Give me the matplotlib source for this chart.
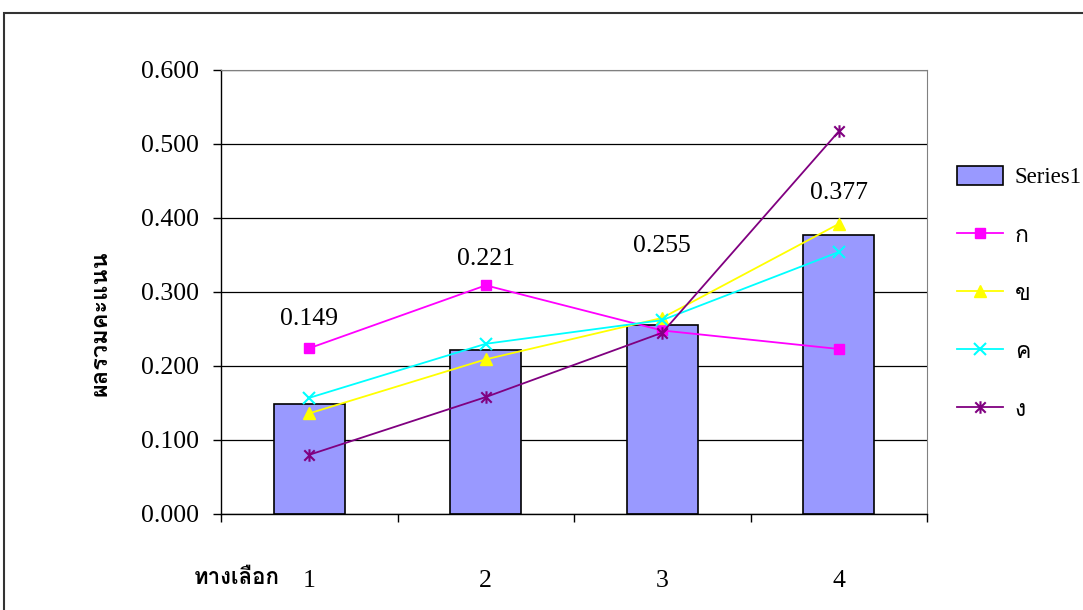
import matplotlib
matplotlib.use('Agg')
import matplotlib.pyplot as plt
from matplotlib import font_manager
from matplotlib.ft2font import FT2Font
from matplotlib.lines import Line2D
from matplotlib.patches import Rectangle
from matplotlib.path import Path

# ---------------- data ----------------
categories = ['1', '2', '3', '4']
series1 = [0.149, 0.221, 0.255, 0.377]
line_names = ['ก', 'ข', 'ค', 'ง']
line_ko = [0.224, 0.309, 0.248, 0.223]
line_kho = [0.136, 0.209, 0.265, 0.392]
line_kho_khwai = [0.157, 0.230, 0.262, 0.354]
line_ngo = [0.080, 0.158, 0.245, 0.517]
y_ticks = [0.0, 0.1, 0.2, 0.3, 0.4, 0.5, 0.6]
y_label = 'ผลรวมคะแนน'
x_label = 'ทางเลือก'
bar_name = 'Series1'

# ---------------- fonts ----------------
def find_thai_font():
    for f in font_manager.fontManager.ttflist:
        try:
            cm = FT2Font(f.fname).get_charmap()
            if 0x0E01 in cm and 0x0E19 in cm:
                return f.name
        except Exception:
            pass
    return None

thai = find_thai_font()
serif = ['Liberation Serif', 'DejaVu Serif']
fam = serif + ([thai] if thai else []) + ['DejaVu Sans']
thai_fam = ([thai] if thai else []) + serif
plt.rcParams['font.family'] = fam

W, H = 1083, 610
fig = plt.figure(figsize=(W / 100, H / 100), dpi=100)
ax = fig.add_axes([221 / W, 1 - 514 / H, 706 / W, 444 / H])

x = list(range(1, len(categories) + 1))
fs = 18.5
lfs = 16.5

ax.bar(x, series1, width=0.4, color='#9999FF', edgecolor='black', linewidth=1.2, zorder=2)

star = Path([(-1, -1), (1, 1), (-1, 1), (1, -1), (0, -1.2), (0, 1.2)],
            [Path.MOVETO, Path.LINETO, Path.MOVETO, Path.LINETO, Path.MOVETO, Path.LINETO])

styles = [
    (line_ko, '#FF00FF', 's', 7, dict()),
    (line_kho, '#FFFF00', '^', 9, dict()),
    (line_kho_khwai, '#00FFFF', 'x', 9, dict(markeredgewidth=1.5)),
    (line_ngo, '#800080', star, 9, dict(markeredgewidth=1.5)),
]
handles = [Rectangle((0, 0), 1, 1, facecolor='#9999FF', edgecolor='black', linewidth=1.2)]
for vals, col, mk, ms, kw in styles:
    ax.plot(x, vals, color=col, marker=mk, markersize=ms, linewidth=1.3,
            markerfacecolor=col, markeredgecolor=col, zorder=3, **kw)
    handles.append(Line2D([], [], color=col, marker=mk, markersize=ms, linewidth=1.3,
                          markerfacecolor=col, markeredgecolor=col, **kw))

# data labels
label_offsets = [61, 66, 57, 30]
for xi, v, off in zip(x, series1, label_offsets):
    ax.annotate(f'{v:.3f}', (xi, v), xytext=(0, off), textcoords='offset points',
                ha='center', va='center', fontsize=fs)

ax.set_xlim(0.5, len(categories) + 0.5)
ax.set_ylim(0, 0.6)
ax.set_yticks(y_ticks)
ax.set_yticklabels([f'{t:.3f}' for t in y_ticks], fontsize=fs)
ax.yaxis.grid(True, color='black', linewidth=0.9)
ax.set_axisbelow(True)
ax.tick_params(axis='y', direction='out', length=6, width=1, pad=10)

ax.set_xticks([i + 0.5 for i in range(0, len(categories) + 1)])
ax.set_xticklabels([])
ax.set_xticks(x, minor=True)
ax.set_xticklabels(categories, minor=True, fontsize=fs)
ax.tick_params(axis='x', which='major', direction='out', length=6, width=1)
ax.tick_params(axis='x', which='minor', length=0, pad=40)

for s in ['top', 'right']:
    ax.spines[s].set_color('#808080')
for s in ['left', 'bottom']:
    ax.spines[s].set_color('black')
    ax.spines[s].set_linewidth(1)

fig.text(100 / W, 1 - 323 / H, y_label, rotation=90, ha='center', va='center',
         fontsize=17, fontweight='bold', family=thai_fam)
fig.text(194 / W, 1 - 578 / H, x_label, ha='left', va='center',
         fontsize=16, fontweight='bold', family=thai_fam)

fig.legend(handles, [bar_name] + line_names, loc='upper left',
           bbox_to_anchor=(957 / W, 1 - 166 / H), frameon=False, fontsize=lfs,
           handlelength=2.0, handleheight=0.9, labelspacing=1.56, borderpad=0,
           handletextpad=0.52, borderaxespad=0)

fig.add_artist(Rectangle((4 / W, -0.1), 1.2, 1 - 13 / H + 0.1, transform=fig.transFigure,
                         fill=False, edgecolor='#333333', linewidth=1.5))

fig.savefig('out.png', dpi=100)
